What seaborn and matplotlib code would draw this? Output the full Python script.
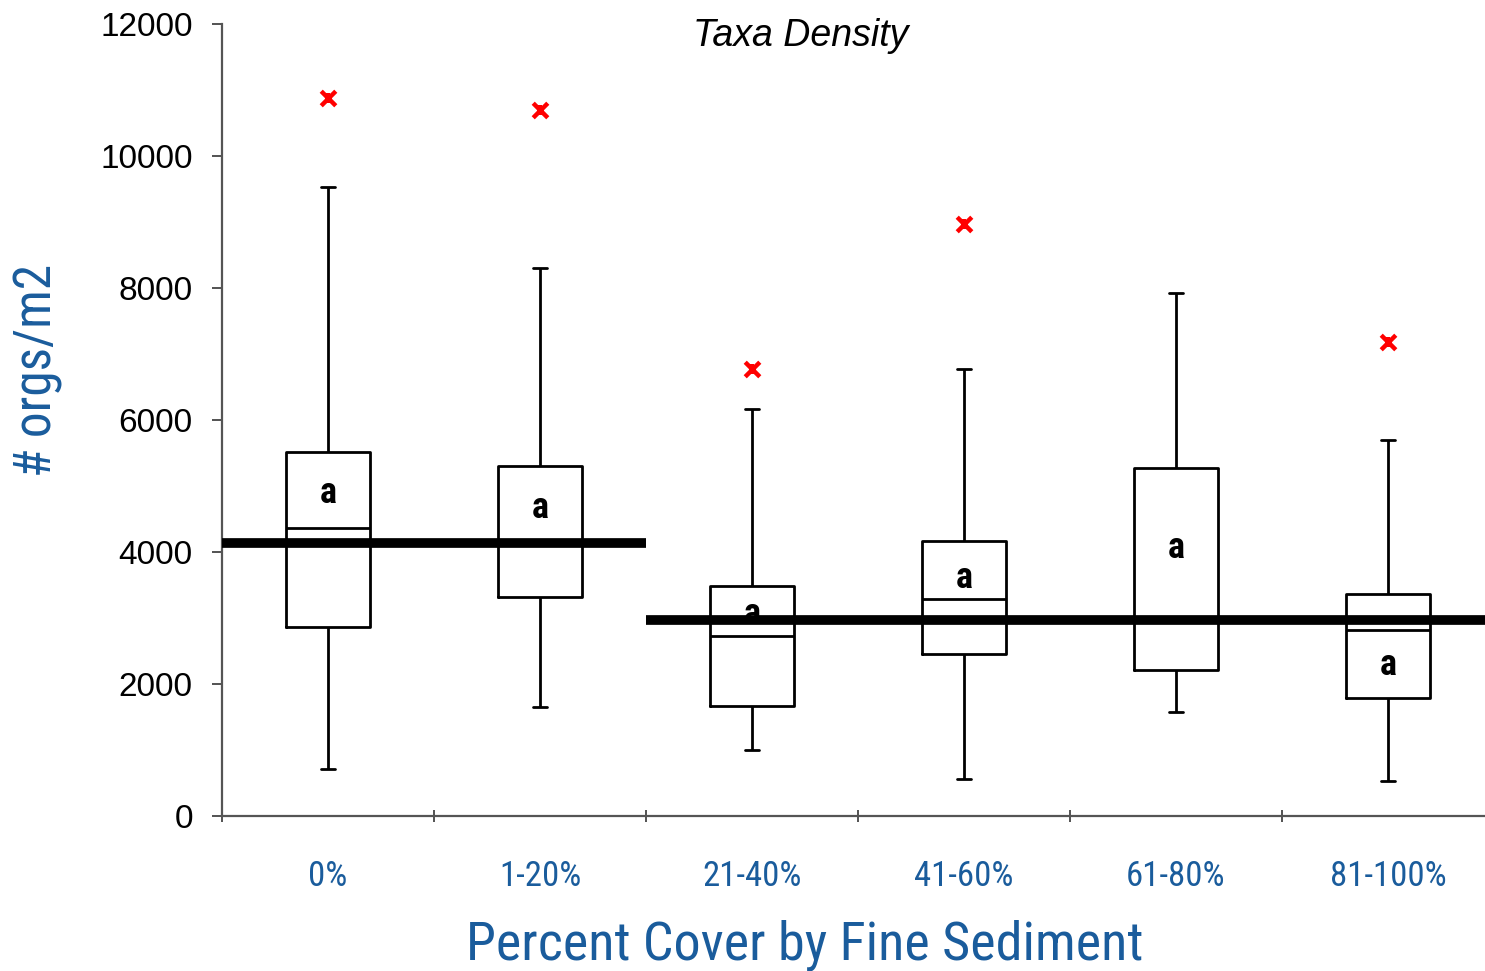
import numpy as np
import pandas as pd
import matplotlib
matplotlib.use('Agg')
import matplotlib.pyplot as plt
from matplotlib import font_manager
import seaborn as sns

# box statistics (orgs/m2)
cover = ['0%', '1-20%', '21-40%', '41-60%', '61-80%', '81-100%']
whisker_low = [710, 1650, 1000, 560, 1580, 530]
q1 = [2860, 3320, 1670, 2450, 2210, 1790]
median = [4360, 4140, 2730, 3290, 2970, 2820]
q3 = [5520, 5300, 3490, 4170, 5270, 3360]
whisker_high = [9530, 8300, 6170, 6770, 7920, 5700]

outlier_cover = ['0%', '1-20%', '21-40%', '41-60%', '81-100%']
outlier_value = [10880, 10700, 6770, 8970, 7180]

letter = ['a', 'a', 'a', 'a', 'a', 'a']
letter_y = [4890, 4670, 3060, 3610, 4060, 2290]

# group means (thick bars) and which categories they span
group_mean = [4140, 2970]
group_first = ['0%', '21-40%']
group_last = ['1-20%', '81-100%']

blue = '#1a5c9c'


def pick_narrow():
    fl = font_manager.fontManager.ttflist
    for name in ['Liberation Sans Narrow', 'Roboto Condensed', 'Open Sans Condensed',
                 'Noto Sans Condensed', 'DejaVu Sans Condensed']:
        if any(f.name == name for f in fl):
            return name, 'normal'
    for name in ['DejaVu Sans', 'Noto Sans', 'Roboto', 'Open Sans']:
        if any(f.name == name and f.stretch in ('condensed', 'semi-condensed') for f in fl):
            return name, 'condensed'
    return 'Lato', 'normal'


sns.set_style('white')
narrow, stretch = pick_narrow()
plt.rcParams['font.family'] = ['Liberation Sans', 'DejaVu Sans']
nfont = dict(family=narrow, fontstretch=stretch)

rows = []
for i, c in enumerate(cover):
    for v in (whisker_low[i], q1[i], median[i], q3[i], whisker_high[i]):
        rows.append({'cover': c, 'density': v})
df = pd.DataFrame(rows)

fig = plt.figure(figsize=(14.85, 9.71), dpi=100)
ax = fig.add_axes([222 / 1485, 155 / 971, 1272 / 1485, 792 / 971])

sns.boxplot(data=df, x='cover', y='density', order=cover, whis=(0, 100),
            fill=False, color='black', linewidth=2.0, width=0.4,
            capwidths=0.07, ax=ax, zorder=2)

pos = {c: i for i, c in enumerate(cover)}
out_x = [pos[c] for c in outlier_cover]
sns.scatterplot(x=out_x, y=outlier_value, ax=ax,
                marker='x', color='red', s=110, linewidth=3.2, zorder=3)
sns.scatterplot(x=out_x, y=outlier_value, ax=ax,
                marker='|', color='red', s=45, linewidth=3.0, zorder=3)

for i, c in enumerate(cover):
    ax.text(i, letter_y[i], letter[i], ha='center', va='center', color='black',
            fontsize=26, fontweight='bold', zorder=1, **nfont)

for m, a, b in zip(group_mean, group_first, group_last):
    ax.hlines(m, pos[a] - 0.5, pos[b] + 0.5, color='black', linewidth=7, zorder=4)

ax.set_xlim(-0.5, len(cover) - 0.5)
ax.set_ylim(0, 12000)
ax.set_yticks(range(0, 12001, 2000))
ax.tick_params(axis='y', labelsize=24, labelcolor='black', length=7, width=1.3,
               color='#444444', pad=14, left=True)
ax.set_xticks(np.arange(-0.5, len(cover), 1))
ax.set_xticklabels([])
ax.tick_params(axis='x', which='major', length=9, width=1.3, color='#444444', bottom=True,
               direction='inout')
ax.set_xticks(range(len(cover)), minor=True)
ax.set_xticklabels(cover, minor=True, fontsize=25, color=blue, **nfont)
ax.tick_params(axis='x', which='minor', length=0, pad=32)

for s in ['top', 'right']:
    ax.spines[s].set_visible(False)
for s in ['left', 'bottom']:
    ax.spines[s].set_color('#555555')
    ax.spines[s].set_linewidth(1.6)

ax.set_xlabel('Percent Cover by Fine Sediment', fontsize=39, color=blue, va='center', **nfont)
ax.xaxis.set_label_coords(0.458, -0.163)
ax.set_ylabel('# orgs/m2', fontsize=37, color=blue, va='center', **nfont)
ax.yaxis.set_label_coords(-0.145, 0.563)
ax.text(0.455, 0.985, 'Taxa Density', transform=ax.transAxes, ha='center', va='center',
        fontsize=27, style='italic', color='black')

fig.savefig('out.png', dpi=100)
